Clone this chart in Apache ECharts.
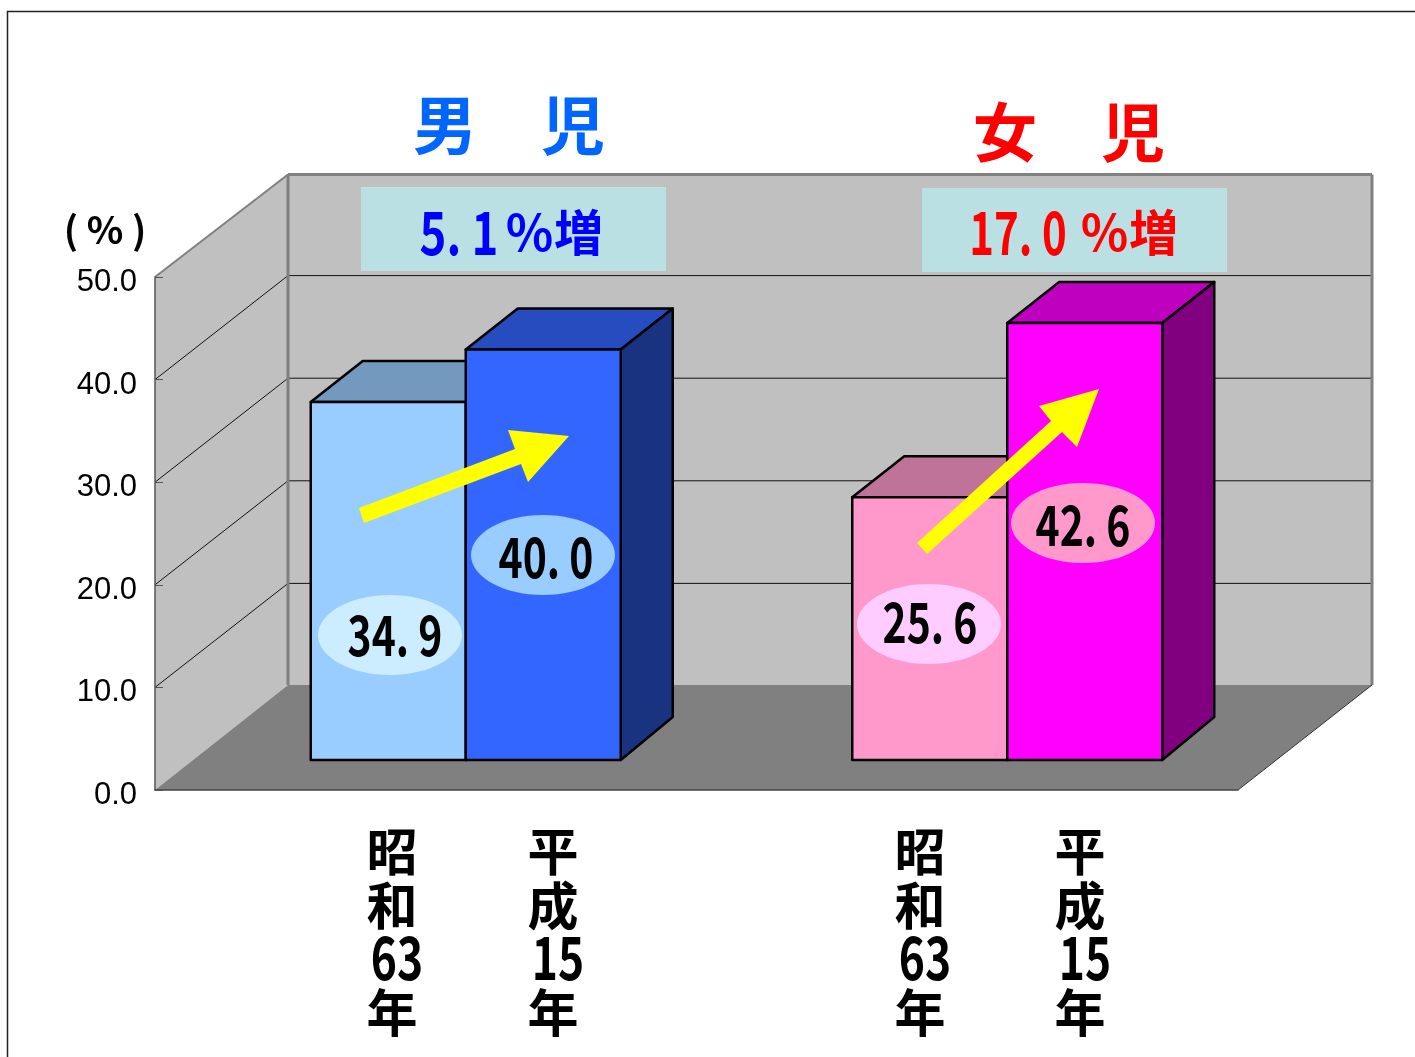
<!DOCTYPE html>
<html>
<head>
<meta charset="utf-8">
<style>
html, body { margin: 0; padding: 0; background: #fff; }
#main { width: 1415px; height: 1057px; }
</style>
<script src="https://cdn.jsdelivr.net/npm/echarts@6/dist/echarts.min.js"></script>
</head>
<body>
<div id="main"></div>
<script>
var categories = ['男児', '女児'];
var showa63 = [34.9, 25.6];
var heisei15 = [40.0, 42.6];
var yTicks = [10, 20, 30, 40, 50];
var groupTitles = ['男　児', '女　児'];
var increases = ['5. 1', '17. 0'];
var yearRows = [['昭', '和', '63', '年'], ['平', '成', '15', '年']];

var JP = '"Noto Sans CJK JP"';
var WALL_DX = 133, WALL_DY = -104;   // depth of the floor
var BAR_DX = 40, BAR_DY = -30;       // where the bars stand on the floor
var DEPTH_DX = 52, DEPTH_DY = -41;   // depth of a bar
var BAR_W = 155;

var faces = {
    showa: [['#99CCFF', '#7399BF', '#4D6680'], ['#FF99CC', '#BF7399', '#804D66']],
    heisei: [['#3366FF', '#264CBF', '#193380'], ['#FF00FF', '#BF00BF', '#800080']]
};

function poly(points, fill) {
    return {type: 'polygon', shape: {points: points}, style: {fill: fill, stroke: '#000', lineWidth: 2.5, lineJoin: 'round'}};
}
function line(p1, p2, color, width) {
    return {type: 'line', shape: {x1: p1[0], y1: p1[1], x2: p2[0], y2: p2[1]}, style: {stroke: color, lineWidth: width}};
}

function renderWalls(params, api) {
    var cs = params.coordSys;
    var l = cs.x, r = cs.x + cs.width, t = cs.y, b = cs.y + cs.height;
    var backL = l + WALL_DX, backR = r + WALL_DX + 1, backT = t + WALL_DY + 1.5, backB = b + WALL_DY - 1;
    var kids = [
        {type: 'polygon', shape: {points: [[backL, backT], [backR, backT], [backR, backB], [backL, backB]]}, style: {fill: '#C0C0C0'}},
        {type: 'polygon', shape: {points: [[l, t], [backL, backT], [backL, backB], [l, b]]}, style: {fill: '#C0C0C0'}},
        {type: 'polygon', shape: {points: [[l, b], [r, b], [backR, backB], [backL, backB]]}, style: {fill: '#808080'}}
    ];
    yTicks.slice(0, 4).forEach(function(v) {
        var y = api.coord([0, v])[1];
        kids.push(line([l, y], [backL, y + WALL_DY], '#111', 1));
        kids.push(line([backL, y + WALL_DY], [backR, y + WALL_DY], '#111', 1));
    });
    kids.push(line([l, t], [backL, backT], '#808080', 2));
    kids.push(line([backL, backT], [backR, backT], '#808080', 3));
    kids.push(line([backL, backT], [backL, backB], '#808080', 3));
    kids.push(line([backR, backT], [backR, backB], '#808080', 3));
    kids.push(line([r, b], [backR, backB], '#333', 1));
    return {type: 'group', children: kids};
}

function barRenderer(side, colors) {
    return function(params, api) {
        var idx = api.value(0);
        var top = api.coord([idx, api.value(1)]);
        var base = api.coord([idx, 0]);
        var x1 = base[0] + BAR_DX + (side < 0 ? -BAR_W : 0);
        var x2 = x1 + BAR_W;
        var y1 = top[1] + BAR_DY, y2 = base[1] + BAR_DY;
        var c = colors[idx];
        return {type: 'group', children: [
            poly([[x1, y1], [x1 + DEPTH_DX, y1 + DEPTH_DY], [x2 + DEPTH_DX, y1 + DEPTH_DY], [x2, y1]], c[1]),
            poly([[x2, y1], [x2 + DEPTH_DX, y1 + DEPTH_DY], [x2 + DEPTH_DX, y2 + DEPTH_DY - 2], [x2, y2]], c[2]),
            poly([[x1, y1], [x2, y1], [x2, y2], [x1, y2]], c[0])
        ]};
    };
}

function text(str, x, y, size, color, scaleX) {
    return {
        type: 'text', x: x, y: y, scaleX: scaleX || 1, z: 20,
        style: {text: str, fontFamily: JP, fontWeight: 'bold', fontSize: size, fill: color, textAlign: 'center', textVerticalAlign: 'middle'}
    };
}
function oval(cx, cy, fill) {
    return {type: 'ellipse', z: 19, shape: {cx: cx, cy: cy, rx: 72, ry: 40}, style: {fill: fill}};
}
function arrow(points) {
    return {type: 'polygon', z: 18, shape: {points: points}, style: {fill: '#FFFF00'}};
}
function box(x, y) {
    return {type: 'rect', z: 18, shape: {x: x, y: y, width: 305, height: 84}, style: {fill: '#BAE0E4'}};
}
function valueLabel(v) {
    return v.toFixed(1).replace('.', '. ');
}
function yearColumn(row, x) {
    return row.map(function(s, i) {
        var isNum = /\d/.test(s);
        return text(s, isNum ? x + 5 : x, 852 + i * 53.5 - (isNum ? 2 : 0), isNum ? 60 : 51, '#000', isNum ? 0.74 : 1);
    });
}

var graphics = [
    {type: 'polyline', z: 18, shape: {points: [[7.5, 1057], [7.5, 11.5], [1415, 11.5]]}, style: {stroke: '#222', lineWidth: 1.5, fill: null}},
    box(361, 187), box(922, 188),
    arrow([[359, 508], [515, 449], [508, 430], [569, 436], [528, 482], [521, 464], [364, 523]]),
    arrow([[917, 543], [1051, 421], [1039, 406], [1099, 389], [1077, 447], [1062, 432], [927, 554]]),
    oval(390, 635, '#CCECFF'), oval(543, 555, '#99CCFF'), oval(929, 624, '#FFCCFF'), oval(1083, 523, '#FF99CC'),
    text(valueLabel(showa63[0]), 395, 635, 56, '#000', 0.73),
    text(valueLabel(heisei15[0]), 546, 557, 56, '#000', 0.73),
    text(valueLabel(showa63[1]), 930, 622, 56, '#000', 0.73),
    text(valueLabel(heisei15[1]), 1083, 525, 56, '#000', 0.73),
    text(groupTitles[0], 509, 125, 64, '#0066FF'),
    text(groupTitles[1], 1069, 132, 64, '#FF0000'),
    text(increases[0], 459, 232, 60, '#0000FF', 0.76),
    text('％増', 554, 232, 49, '#0000FF'),
    text(increases[1], 1018, 232, 60, '#FF0000', 0.7),
    text('％増', 1129, 232, 49, '#FF0000'),
    text('( % )', 105, 230, 38, '#000')
].concat(
    yearColumn(yearRows[0], 392), yearColumn(yearRows[1], 553),
    yearColumn(yearRows[0], 920), yearColumn(yearRows[1], 1080)
);

var myChart = echarts.init(document.getElementById('main'));
myChart.setOption({
    animation: false,
    backgroundColor: '#fff',
    grid: {left: 155, top: 277, width: 1083, height: 513},
    xAxis: {
        type: 'category',
        data: categories,
        z: 3,
        axisLine: {lineStyle: {color: '#444', width: 1.5}},
        axisTick: {show: false},
        axisLabel: {show: false}
    },
    yAxis: {
        type: 'value',
        min: 0,
        max: 50,
        interval: 10,
        z: 3,
        splitLine: {show: false},
        axisLine: {show: true, lineStyle: {color: '#555', width: 1.5}},
        axisTick: {show: true, inside: true, length: 8, lineStyle: {color: '#555'}},
        axisLabel: {
            margin: 18,
            fontFamily: '"Liberation Sans"',
            fontSize: 31,
            color: '#000',
            verticalAlign: 'top',
            lineHeight: 11,
            formatter: function(v) { return v.toFixed(1); }
        }
    },
    series: [
        {type: 'custom', silent: true, z: 1, renderItem: renderWalls, data: [[0, 0]], encode: {x: 0, y: 1}},
        {
            type: 'custom', silent: true, z: 4,
            renderItem: barRenderer(-1, faces.showa),
            data: showa63.map(function(v, i) { return [i, v]; }),
            encode: {x: 0, y: 1}
        },
        {
            type: 'custom', silent: true, z: 5,
            renderItem: barRenderer(1, faces.heisei),
            data: heisei15.map(function(v, i) { return [i, v]; }),
            encode: {x: 0, y: 1}
        }
    ],
    graphic: {elements: graphics}
});
</script>
</body>
</html>
